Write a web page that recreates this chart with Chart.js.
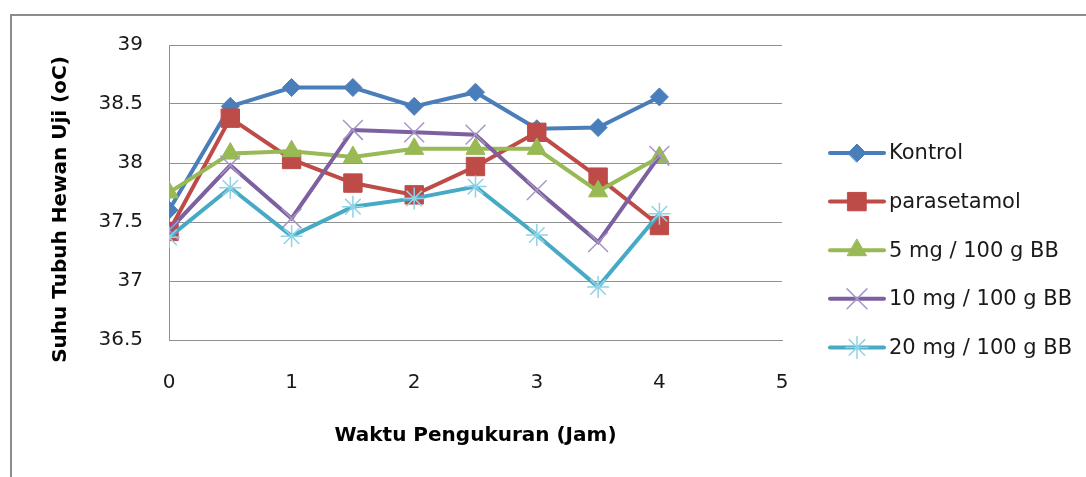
<!DOCTYPE html>
<html>
<head>
<meta charset="utf-8">
<script src="https://cdn.jsdelivr.net/npm/chart.js@4.4.1/dist/chart.umd.min.js"></script>
<style>
    html, body { margin: 0; padding: 0; background: #fff; }
    #wrap { position: relative; width: 1086px; height: 477px; overflow: hidden; }
    #frame {
        position: absolute; left: 10px; top: 14px; width: 1200px; height: 600px;
        border-top: 2px solid #8c8c8c; border-left: 2px solid #8c8c8c;
    }
    #chart { position: absolute; left: 0; top: 0; }
</style>
</head>
<body>
<div id="wrap">
    <div id="frame"></div>
    <canvas id="chart" width="1086" height="477"></canvas>
</div>
<script>
// 数据
const HOURS = [0, 0.5, 1, 1.5, 2, 2.5, 3, 3.5, 4];
const KONTROL = [37.60, 38.48, 38.64, 38.64, 38.48, 38.60, 38.29, 38.30, 38.56];
const PARASETAMOL = [37.42, 38.38, 38.03, 37.83, 37.73, 37.97, 38.26, 37.88, 37.47];
const DOSE_5 = [37.75, 38.08, 38.10, 38.05, 38.12, 38.12, 38.12, 37.76, 38.05];
const DOSE_10 = [37.43, 37.98, 37.53, 38.28, 38.26, 38.24, 37.77, 37.33, 38.06];
const DOSE_20 = [37.37, 37.79, 37.38, 37.63, 37.70, 37.80, 37.39, 36.95, 37.57];
const SERIES_LABELS = ['Kontrol', 'parasetamol', '5 mg / 100 g BB', '10 mg / 100 g BB', '20 mg / 100 g BB'];
const X_TITLE = 'Waktu Pengukuran (Jam)';
const Y_TITLE = 'Suhu Tubuh Hewan Uji (oC)';

const FONT = '"DejaVu Sans", sans-serif';
const TEXT = '#1a1a1a';
const GRID = '#909090';

// 线条与标记样式
const STYLES = [
    { color: '#4a7ebb', mark: '#4a7ebb', fill: '#4a7ebb', pointStyle: 'rectRot', radius: 9, pw: 1 },
    { color: '#be4b48', mark: '#be4b48', fill: '#be4b48', pointStyle: 'rect', radius: 13, pw: 1 },
    { color: '#98b954', mark: '#98b954', fill: '#98b954', pointStyle: 'triangle', radius: 11, pw: 1 },
    { color: '#7d60a0', mark: '#a796c6', fill: 'transparent', pointStyle: 'crossRot', radius: 14, pw: 1.5 },
    { color: '#46aac5', mark: '#8fd3e6', fill: 'transparent', pointStyle: 'star', radius: 11, pw: 1.5 },
];

const SERIES = [KONTROL, PARASETAMOL, DOSE_5, DOSE_10, DOSE_20];

function toPoints(values) {
    return values.map((v, i) => ({ x: HOURS[i], y: v }));
}

/**
 * 右侧图例 + 坐标轴标题
 */
const legendAndTitles = {
    id: 'legendAndTitles',
    afterDraw(chart) {
        const ctx = chart.ctx;
        const area = chart.chartArea;
        ctx.save();

        // axis titles
        ctx.fillStyle = '#000';
        ctx.font = 'bold 20px ' + FONT;
        ctx.textAlign = 'center';
        ctx.textBaseline = 'middle';
        ctx.fillText(X_TITLE, (area.left + area.right) / 2, area.bottom + 96);
        ctx.save();
        ctx.translate(area.left - 108, (area.top + area.bottom) / 2 + 17);
        ctx.rotate(-Math.PI / 2);
        ctx.fillText(Y_TITLE, 0, 0);
        ctx.restore();

        // legend
        const x0 = area.right + 48;
        const lineLen = 54;
        const rowH = 48.6;
        const y0 = 153;
        ctx.textAlign = 'left';
        ctx.font = '21px ' + FONT;
        SERIES_LABELS.forEach((label, i) => {
            const s = STYLES[i];
            const y = y0 + i * rowH;
            ctx.strokeStyle = s.color;
            ctx.lineWidth = 4;
            ctx.lineCap = 'round';
            ctx.beginPath();
            ctx.moveTo(x0, y);
            ctx.lineTo(x0 + lineLen, y);
            ctx.stroke();
            ctx.fillStyle = s.fill;
            ctx.strokeStyle = s.mark;
            ctx.lineWidth = s.pw;
            Chart.helpers.drawPoint(ctx, {
                pointStyle: s.pointStyle,
                radius: s.radius,
                borderWidth: s.pw,
                rotation: 0,
            }, x0 + lineLen / 2, y);
            ctx.fillStyle = TEXT;
            ctx.fillText(label, x0 + lineLen + 5, y + 1);
        });
        ctx.restore();
    },
};

new Chart(document.getElementById('chart'), {
    type: 'line',
    data: {
        datasets: SERIES.map((values, i) => ({
            label: SERIES_LABELS[i],
            data: toPoints(values),
            borderColor: STYLES[i].color,
            backgroundColor: STYLES[i].fill,
            borderWidth: 4,
            tension: 0,
            pointStyle: STYLES[i].pointStyle,
            pointRadius: STYLES[i].radius,
            pointBackgroundColor: STYLES[i].fill,
            pointBorderColor: STYLES[i].mark,
            pointBorderWidth: STYLES[i].pw,
            order: SERIES.length - i,
        })),
    },
    options: {
        responsive: false,
        animation: false,
        events: [],
        layout: { padding: { left: 0, top: 45, right: 304, bottom: 0 } },
        plugins: {
            legend: { display: false },
            tooltip: { enabled: false },
        },
        scales: {
            x: {
                type: 'linear',
                min: 0,
                max: 5,
                ticks: { stepSize: 1, padding: 31, color: TEXT, font: { family: FONT, size: 20 } },
                grid: { display: false, drawTicks: false },
                border: { display: true, color: GRID, width: 1 },
                afterFit: (scale) => { scale.height = 137; },
            },
            y: {
                min: 36.5,
                max: 39,
                ticks: {
                    stepSize: 0.5, padding: 26, color: TEXT, font: { family: FONT, size: 20 },
                    callback: (v) => String(v),
                },
                grid: { color: GRID, lineWidth: 1, drawTicks: false },
                border: { display: true, color: GRID, width: 1 },
                afterFit: (scale) => { scale.width = 169; },
            },
        },
    },
    plugins: [legendAndTitles],
});
</script>
</body>
</html>
